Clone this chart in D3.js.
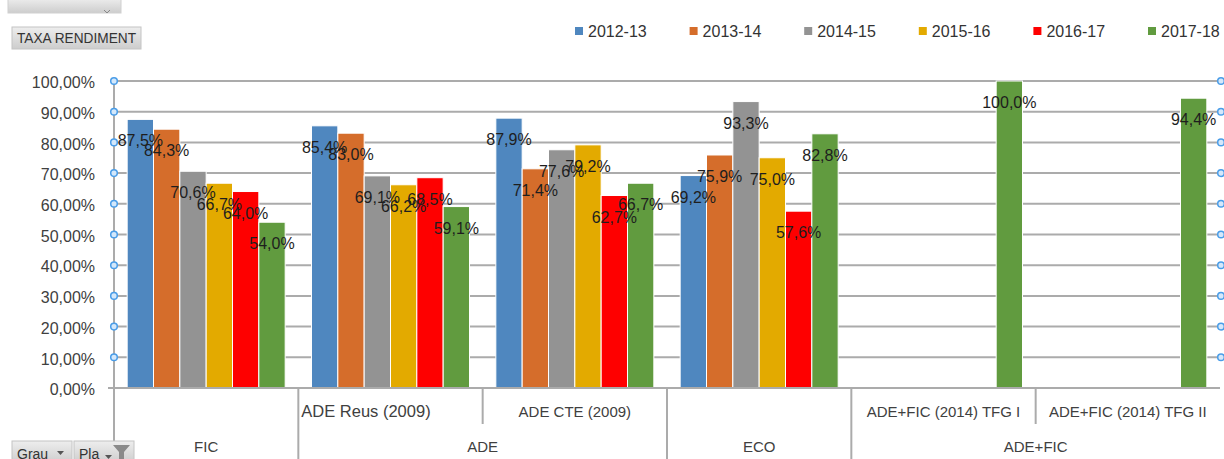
<!DOCTYPE html>
<meta charset="utf-8">
<head>
    <title>Taxa rendiment</title>
    <script type="text/javascript" src="https://cdn.jsdelivr.net/npm/d3@7"></script>
    <style>
        body { margin: 0; background: #fff; }
        svg { display: block; font-family: "Liberation Sans", Arial, sans-serif; }
        .ylab text { font-size: 16px; fill: #404040; }
        .dlab { font-size: 16px; fill: #1e1e1e; text-anchor: middle; }
        .leg text { font-size: 16px; fill: #333; }
        .cat { font-size: 15px; fill: #404040; text-anchor: middle; }
        .btn text { font-size: 13px; fill: #333; }
    </style>
</head>
<body>
<script>

// categories (lowest level of the axis), and the groups above them
var categories = ["FIC", "ADE Reus (2009)", "ADE CTE (2009)", "ECO", "ADE+FIC (2014) TFG I", "ADE+FIC (2014) TFG II"];
var subLabels = ["", "ADE Reus (2009)", "ADE CTE (2009)", "", "ADE+FIC (2014) TFG I", "ADE+FIC (2014) TFG II"];
var groupNames = ["FIC", "ADE", "ECO", "ADE+FIC"];
var groupSpans = [1, 2, 1, 2];

// series (courses) and values in %
var seriesNames = ["2012-13", "2013-14", "2014-15", "2015-16", "2016-17", "2017-18"];
var seriesColors = ["#4f87bf", "#d56d2b", "#939393", "#e3aa00", "#fe0000", "#619b3f"];
var v2012 = [87.5, 85.4, 87.9, 69.2, null, null];
var v2013 = [84.3, 83.0, 71.4, 75.9, null, null];
var v2014 = [70.6, 69.1, 77.6, 93.3, null, null];
var v2015 = [66.7, 66.2, 79.2, 75.0, null, null];
var v2016 = [64.0, 68.5, 62.7, 57.6, null, null];
var v2017 = [54.0, 59.1, 66.7, 82.8, 100.0, 94.4];
var seriesValues = [v2012, v2013, v2014, v2015, v2016, v2017];

var yTicks = [0, 0.1, 0.2, 0.3, 0.4, 0.5, 0.6, 0.7, 0.8, 0.9, 1.0];

var width = 1224, height = 459;
var pLeft = 114, pRight = 1220, pTop = 81, pBottom = 388;

var loc = d3.formatLocale({decimal: ",", thousands: ".", grouping: [3], currency: ["", "€"]});
var fmtAxis = loc.format(".2%"), fmtLab = loc.format(".1%");

var svg = d3.select("body").append("svg")
    .attr("width", width).attr("height", height);

var defs = svg.append("defs");
var grad = defs.append("linearGradient").attr("id", "btng").attr("x1", 0).attr("y1", 0).attr("x2", 0).attr("y2", 1);
grad.append("stop").attr("offset", "0%").attr("stop-color", "#eeeeee");
grad.append("stop").attr("offset", "100%").attr("stop-color", "#cdcdcd");

// scales
var x = d3.scaleBand().domain(d3.range(categories.length)).range([pLeft, pRight]);
var xs = d3.scaleBand().domain(seriesNames).range([0, x.bandwidth()]).paddingOuter(0.5);
var y = d3.scaleLinear().domain([0, 1]).range([pBottom, pTop]);

// gridlines
svg.append("g")
    .selectAll("line")
    .data(yTicks.slice(1))
    .enter().append("line")
    .attr("x1", pLeft).attr("x2", pRight)
    .attr("y1", d => y(d)).attr("y2", d => y(d))
    .style("stroke", "#ababab").style("stroke-width", 2);

// y axis labels
var yAxis = d3.axisLeft(y).tickValues(yTicks).tickFormat(fmtAxis).tickSize(0).tickPadding(19);
var ya = svg.append("g").attr("class", "ylab")
    .attr("transform", "translate(" + pLeft + ",0)")
    .call(yAxis);
ya.select(".domain").remove();
ya.selectAll("text").attr("dy", "0.42em");

// bars
var bars = svg.append("g");
seriesNames.forEach(function(s, si){
    bars.selectAll(".b" + si)
        .data(seriesValues[si].map((v, i) => ({v: v, i: i})).filter(d => d.v != null))
        .enter().append("rect")
        .attr("x", d => x(d.i) + xs(s))
        .attr("width", xs.bandwidth())
        .attr("y", d => y(d.v / 100))
        .attr("height", d => y(0) - y(d.v / 100))
        .style("fill", seriesColors[si])
        .style("stroke", "#fff").style("stroke-width", 1);
});

// axes lines
svg.append("line").attr("x1", pLeft).attr("x2", pLeft).attr("y1", pTop).attr("y2", height)
    .style("stroke", "#ababab").style("stroke-width", 2);
svg.append("line").attr("x1", pLeft - 6).attr("x2", pRight).attr("y1", y(0)).attr("y2", y(0))
    .style("stroke", "#ababab").style("stroke-width", 2);

// category separators: long at group borders, short inside groups
var groupStarts = [];
var acc = 0;
groupSpans.forEach(function(n){ groupStarts.push(acc); acc += n; });
d3.range(1, categories.length).forEach(function(i){
    var isGroup = groupStarts.indexOf(i) >= 0;
    svg.append("line")
        .attr("x1", x(i)).attr("x2", x(i))
        .attr("y1", y(0)).attr("y2", isGroup ? height : 424)
        .style("stroke", "#ababab").style("stroke-width", 2);
});

// sub category labels (the "ADE Reus" one sits at the left of its cell, as in the sheet)
svg.append("g").selectAll("text")
    .data(subLabels)
    .enter().append("text")
    .attr("class", "cat")
    .attr("x", (d, i) => i == 1 ? x(i) + 3 : x(i) + x.bandwidth() / 2)
    .attr("y", 417)
    .style("text-anchor", (d, i) => i == 1 ? "start" : "middle")
    .style("font-size", (d, i) => i == 1 ? "16.5px" : null)
    .text(d => d);

// group labels
svg.append("g").selectAll("text")
    .data(groupNames)
    .enter().append("text")
    .attr("class", "cat")
    .attr("x", (d, i) => x(groupStarts[i]) + x.bandwidth() * groupSpans[i] / 2)
    .attr("y", 452)
    .text(d => d);

// data labels
var labs = svg.append("g");
seriesNames.forEach(function(s, si){
    labs.selectAll(".l" + si)
        .data(seriesValues[si].map((v, i) => ({v: v, i: i})).filter(d => d.v != null))
        .enter().append("text")
        .attr("class", "dlab")
        .attr("x", d => x(d.i) + xs(s) + xs.bandwidth() / 2)
        .attr("y", d => y(d.v / 100) + 27)
        .text(d => fmtLab(d.v / 100));
});

// selection handles on gridlines
[pLeft, pRight + 1].forEach(function(cx){
    svg.append("g").selectAll("circle")
        .data(yTicks.slice(1))
        .enter().append("circle")
        .attr("cx", cx).attr("cy", d => y(d)).attr("r", 3.3)
        .style("fill", "#d4e8fb").style("stroke", "#4a9de8").style("stroke-width", 1.5);
});

// legend
var leg = svg.append("g").attr("class", "leg");
seriesNames.forEach(function(s, i){
    var g = leg.append("g").attr("transform", "translate(" + (575 + i * 114.6) + ",27)");
    g.append("rect").attr("width", 8).attr("height", 8).style("fill", seriesColors[i]);
    g.append("text").attr("x", 13).attr("y", 10).text(s);
});

// field buttons
svg.append("rect").attr("x", 8).attr("y", -2).attr("width", 113).attr("height", 15)
    .style("fill", "url(#btng)").style("stroke", "#d0d0d0");
svg.append("path").attr("d", "M104,10 l3,3 l3,-3").style("fill", "none").style("stroke", "#888");

var b1 = svg.append("g").attr("class", "btn");
b1.append("rect").attr("x", 12).attr("y", 27).attr("width", 129).attr("height", 22)
    .style("fill", "url(#btng)").style("stroke", "#c4c4c4");
b1.append("text").attr("x", 17).attr("y", 43).attr("textLength", 119)
    .attr("lengthAdjust", "spacingAndGlyphs").style("font-size", "14px").text("TAXA RENDIMENT");

var b2 = svg.append("g").attr("class", "btn");
b2.append("rect").attr("x", 12).attr("y", 441).attr("width", 60).attr("height", 22)
    .style("fill", "url(#btng)").style("stroke", "#c4c4c4");
b2.append("text").attr("x", 17).attr("y", 459).style("font-size", "14px").text("Grau");
b2.append("path").attr("d", "M57,451 h7 l-3.5,4 z").style("fill", "#555");
b2.append("rect").attr("x", 74).attr("y", 441).attr("width", 60).attr("height", 22)
    .style("fill", "url(#btng)").style("stroke", "#c4c4c4");
b2.append("text").attr("x", 79).attr("y", 459).style("font-size", "14px").text("Pla");
b2.append("path").attr("d", "M105,455 h7 l-3.5,4 z").style("fill", "#555");
b2.append("path").attr("d", "M113,445 h17 l-6,7 v7 h-5 v-7 z").style("fill", "#8a8a8a");

</script>
</body>
</html>
